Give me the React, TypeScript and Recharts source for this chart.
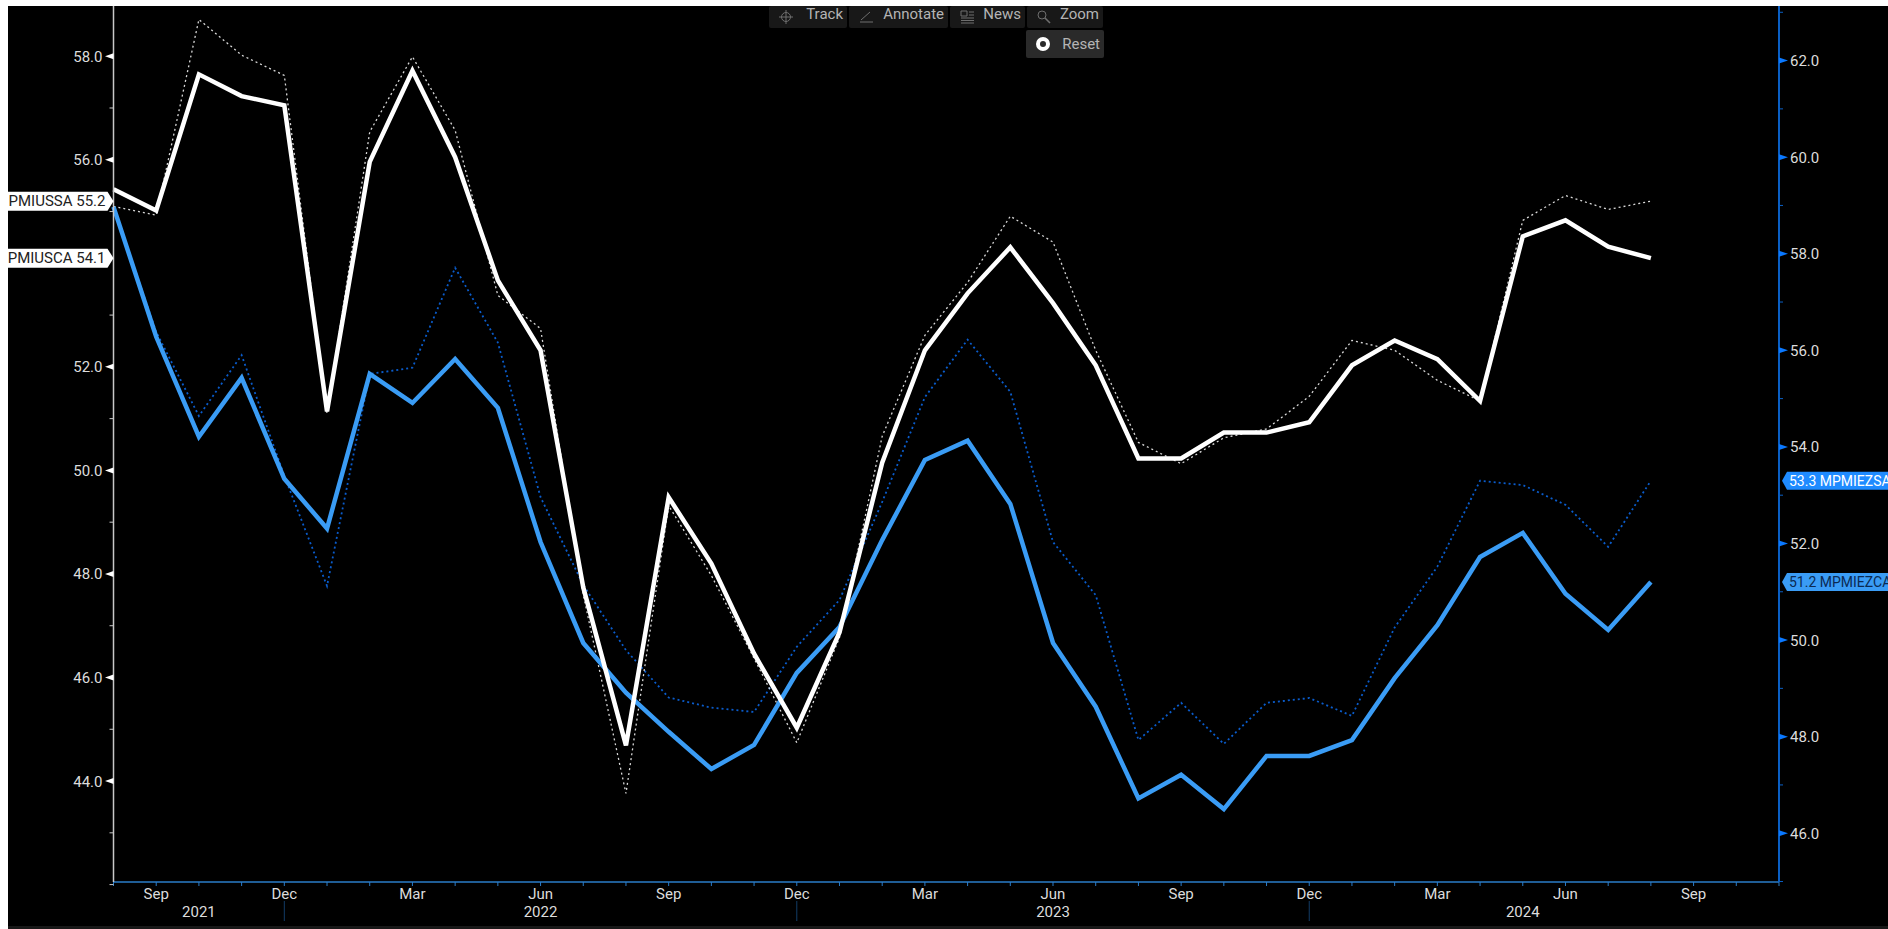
import { LineChart, Line, XAxis, YAxis } from "recharts";

const months = [
  "2021-08", "2021-09", "2021-10", "2021-11", "2021-12",
  "2022-01", "2022-02", "2022-03", "2022-04", "2022-05", "2022-06", "2022-07", "2022-08", "2022-09", "2022-10", "2022-11", "2022-12",
  "2023-01", "2023-02", "2023-03", "2023-04", "2023-05", "2023-06", "2023-07", "2023-08", "2023-09", "2023-10", "2023-11", "2023-12",
  "2024-01", "2024-02", "2024-03", "2024-04", "2024-05", "2024-06", "2024-07", "2024-08", "2024-09", "2024-10", "2024-11",
];

// US PMI, left axis
const usComposite = [
  55.43, 55.02, 57.65, 57.23, 57.05, 51.14, 55.96, 57.72, 56.05, 53.67, 52.32, 47.74, 44.69, 49.48, 48.2, 46.46, 45.03,
  46.87, 50.15, 52.32, 53.42, 54.31, 53.23, 52.03, 50.23, 50.23, 50.73, 50.73, 50.93, 52.03, 52.51, 52.15, 51.34, 54.52,
  54.83, 54.32, 54.1,
];
const usServices = [
  55.1, 54.93, 58.71, 58.02, 57.63, 51.1, 56.54, 57.99, 56.57, 53.38, 52.74, 47.6, 43.76, 49.32, 47.97, 46.37, 44.74,
  46.77, 50.66, 52.61, 53.63, 54.91, 54.41, 52.32, 50.54, 50.13, 50.63, 50.8, 51.43, 52.51, 52.32, 51.74, 51.34, 54.83,
  55.31, 55.04, 55.2,
];

// Eurozone PMI, right axis
const ezComposite = [
  58.97, 56.28, 54.21, 55.43, 53.34, 52.31, 55.51, 54.91, 55.82, 54.81, 52.03, 49.94, 48.91, 48.1, 47.33, 47.83, 49.32,
  50.27, 52.07, 53.73, 54.13, 52.82, 49.94, 48.62, 46.72, 47.21, 46.5, 47.6, 47.6, 47.93, 49.21, 50.31, 51.72, 52.22,
  50.96, 50.21, 51.2,
];
const ezServices = [
  58.97, 56.38, 54.64, 55.9, 53.4, 51.12, 55.51, 55.64, 57.71, 56.16, 52.96, 51.14, 49.79, 48.81, 48.6, 48.51, 49.86,
  50.83, 52.86, 55.03, 56.22, 55.14, 52.03, 50.93, 47.93, 48.7, 47.85, 48.7, 48.8, 48.43, 50.26, 51.52, 53.3, 53.21,
  52.8, 51.93, 53.3,
];

const monthLabels: Record<string, string> = { "09": "Sep", "12": "Dec", "03": "Mar", "06": "Jun" };
const yearLabels: Record<string, string> = { "2021-10": "2021", "2022-06": "2022", "2023-06": "2023", "2024-05": "2024" };
const yearDividers = ["2021-12", "2022-12", "2023-12"];

// 54 sits behind the MPMIUSCA tag in the original, so it has no tick here
const leftTicks = [42, 43, 44, 45, 46, 47, 48, 49, 50, 51, 52, 53, 54.1, 55, 55.2, 56, 57, 58];
const rightTicks = [45, 46, 47, 48, 49, 50, 51, 51.2, 52, 53, 53.3, 54, 55, 56, 57, 58, 59, 60, 61, 62, 63];
const leftTags: Record<string, string> = { "55.2": "MPMIUSSA 55.2", "54.1": "MPMIUSCA 54.1" };
const rightTags: Record<string, string> = { "53.3": "53.3 MPMIEZSA", "51.2": "51.2 MPMIEZCA" };

const toolbar = [
  { label: "Track", left: 769, width: 78, top: 6, height: 22, bg: "#181818", icon: "track" },
  { label: "Annotate", left: 849, width: 99, top: 6, height: 22, bg: "#181818", icon: "pen" },
  { label: "News", left: 950, width: 75, top: 6, height: 22, bg: "#181818", icon: "news" },
  { label: "Zoom", left: 1027, width: 76, top: 6, height: 22, bg: "#181818", icon: "zoom" },
  { label: "Reset", left: 1026, width: 78, top: 30, height: 28, bg: "#2a2a2a", icon: "reset" },
];

const data = months.map((m, i) => ({
  month: m,
  usComposite: usComposite[i],
  usServices: usServices[i],
  ezComposite: ezComposite[i],
  ezServices: ezServices[i],
}));

const FONT = "Roboto, sans-serif";
const LEFT_COLOR = "#c8c8c8";
const RIGHT_COLOR = "#0a5fc4";
const X_COLOR = "#2a7cc8";
const LABEL = "#dcdcdc";

function LeftTick({ x, y, payload }: any) {
  const v = payload.value;
  const tag = leftTags[String(v)];
  if (tag) {
    return (
      <g>
        <path d={`M${x - 110} ${y - 9.5} H${x - 6} L${x} ${y} L${x - 6} ${y + 9.5} H${x - 110} Z`} fill="#fff" />
        <text x={x - 8} y={y + 5} textAnchor="end" fontFamily={FONT} fontSize={15} fill="#222">{tag}</text>
      </g>
    );
  }
  if (v % 2 === 1 || v === 42) {
    return <line x1={x - 4} x2={x} y1={y} y2={y} stroke={LEFT_COLOR} strokeWidth={1} />;
  }
  return (
    <g>
      <path d={`M${x} ${y - 3} L${x - 8.5} ${y} L${x} ${y + 3} Z`} fill="#fff" />
      <text x={x - 11} y={y + 5.5} textAnchor="end" fontFamily={FONT} fontSize={15} fill={LABEL}>{v.toFixed(1)}</text>
    </g>
  );
}

function RightTick({ x, y, payload }: any) {
  const v = payload.value;
  const tag = rightTags[String(v)];
  if (tag) {
    const dark = v === 51.2;
    return (
      <g>
        <path
          d={`M${x + 3} ${y} L${x + 8} ${y - 9} H${x + 130} V${y + 9} H${x + 8} Z`}
          fill={dark ? "#3a9cf5" : "#1f8bff"}
        />
        <text x={x + 10} y={y + 5} fontFamily={FONT} fontSize={14} fill={dark ? "#0b2a52" : "#fff"}>{tag}</text>
      </g>
    );
  }
  if (v % 2 === 1) {
    return <line x1={x} x2={x + 4} y1={y} y2={y} stroke={RIGHT_COLOR} strokeWidth={1} />;
  }
  return (
    <g>
      <path d={`M${x} ${y - 3} L${x + 9} ${y} L${x} ${y + 3} Z`} fill="#0a78ff" />
      <text x={x + 11} y={y + 5.5} fontFamily={FONT} fontSize={15} fill={LABEL}>{v.toFixed(1)}</text>
    </g>
  );
}

function MonthTick({ x, y, payload }: any) {
  const key: string = payload.value;
  const label = monthLabels[key.slice(5)];
  const year = yearLabels[key];
  return (
    <g>
      <line x1={x} x2={x} y1={y} y2={y + 4} stroke={X_COLOR} strokeWidth={1} />
      {label && (
        <text x={x} y={y + 17} textAnchor="middle" fontFamily={FONT} fontSize={15} fill={LABEL}>{label}</text>
      )}
      {year && (
        <text x={x} y={y + 35} textAnchor="middle" fontFamily={FONT} fontSize={15} fill={LABEL}>{year}</text>
      )}
      {yearDividers.includes(key) && (
        <line x1={x} x2={x} y1={y + 19} y2={y + 39} stroke="#123c66" strokeWidth={1} />
      )}
    </g>
  );
}

function ToolIcon({ kind }: { kind: string }) {
  const c = "#6e6e6e";
  return (
    <svg width={16} height={16} style={{ position: "absolute", left: 9, top: "50%", marginTop: -8 }}>
      {kind === "track" && (
        <g stroke={c} fill="none">
          <circle cx={8} cy={8} r={4.5} />
          <path d="M8 1V15M1 8H15" />
        </g>
      )}
      {kind === "pen" && <path d="M2 13H15M3 11L12 3" stroke={c} fill="none" />}
      {kind === "news" && <path d="M2 2H8V7H2ZM10 3H15M10 6H15M2 9H15M2 11.5H15M2 14H15" stroke={c} fill="none" />}
      {kind === "zoom" && (
        <g stroke={c} fill="none">
          <circle cx={6} cy={6} r={4} />
          <path d="M9 9L14 14" strokeWidth={1.6} />
        </g>
      )}
      {kind === "reset" && <circle cx={8} cy={8} r={5} stroke="#fff" strokeWidth={4} fill="none" />}
    </svg>
  );
}

export default function App() {
  return (
    <div style={{ position: "absolute", left: 0, top: 0, width: 1888, height: 929, background: "#fff", overflow: "hidden" }}>
      <div style={{ position: "absolute", left: 8, top: 6, width: 1880, height: 923, background: "#000", overflow: "hidden" }}>
        <div style={{ position: "absolute", left: -8, top: -6 }}>
          <LineChart width={1888} height={929} data={data} margin={{ top: 6, right: 0, bottom: 0, left: 0 }}>
            <XAxis
              dataKey="month"
              interval={0}
              height={47}
              tickSize={0}
              tickMargin={0}
              tickLine={false}
              axisLine={{ stroke: X_COLOR, strokeWidth: 1.5 }}
              tick={MonthTick}
            />
            <YAxis
              yAxisId="us"
              orientation="left"
              width={113.5}
              domain={[42.05, 58.97]}
              allowDataOverflow
              ticks={leftTicks}
              interval={0}
              tickSize={0}
              tickMargin={0}
              tickLine={false}
              axisLine={{ stroke: LEFT_COLOR, strokeWidth: 1.5 }}
              tick={LeftTick}
            />
            <YAxis
              yAxisId="ez"
              orientation="right"
              width={109}
              domain={[44.99, 63.13]}
              allowDataOverflow
              ticks={rightTicks}
              interval={0}
              tickSize={0}
              tickMargin={0}
              tickLine={false}
              axisLine={{ stroke: RIGHT_COLOR, strokeWidth: 2 }}
              tick={RightTick}
            />
            <Line yAxisId="ez" dataKey="ezServices" type="linear" stroke="#0a5ccc" strokeWidth={1.8} strokeDasharray="2 3" dot={false} isAnimationActive={false} />
            <Line yAxisId="us" dataKey="usServices" type="linear" stroke="#d8d8d8" strokeWidth={1.3} strokeDasharray="2 3" dot={false} isAnimationActive={false} />
            <Line yAxisId="ez" dataKey="ezComposite" type="linear" stroke="#3a9cf5" strokeWidth={4.5} strokeLinejoin="miter" dot={false} isAnimationActive={false} />
            <Line yAxisId="us" dataKey="usComposite" type="linear" stroke="#ffffff" strokeWidth={4.5} strokeLinejoin="miter" dot={false} isAnimationActive={false} />
          </LineChart>
        </div>
        {toolbar.map((b) => (
          <div
            key={b.label}
            style={{
              position: "absolute",
              left: b.left - 8,
              top: b.top - 6,
              width: b.width,
              height: b.height,
              background: b.bg,
              color: "#b4b4b4",
              fontFamily: FONT,
              fontSize: 15,
              lineHeight: `${b.height - (b.top === 6 ? 5 : 0)}px`,
              textAlign: "right",
              paddingRight: 4,
              boxSizing: "border-box",
              borderRadius: 2,
            }}
          >
            <ToolIcon kind={b.icon} />
            {b.label}
          </div>
        ))}
        <div style={{ position: "absolute", left: 0, top: 920, width: 1880, height: 3, background: "#181818" }} />
      </div>
    </div>
  );
}
